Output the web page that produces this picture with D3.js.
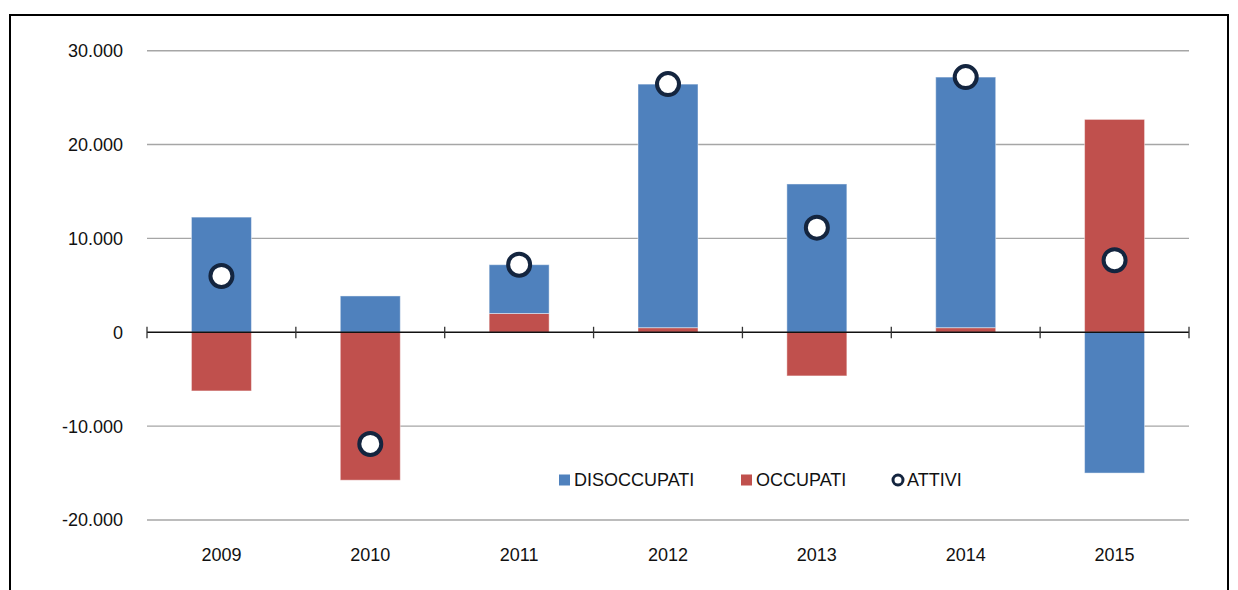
<!DOCTYPE html>
<html>
<head>
<meta charset="utf-8">
<script src="https://cdn.jsdelivr.net/npm/d3@7/dist/d3.min.js"></script>
<style>
  body { margin: 0; background: #fff; }
  svg { display: block; font-family: "Liberation Sans", Arial, sans-serif; }
</style>
</head>
<body>
<svg id="chart" width="1238" height="590"></svg>
<script>
const years = ["2009", "2010", "2011", "2012", "2013", "2014", "2015"];
const disoccupati = [12270, 3870, 5200, 25950, 15800, 26700, -15000];
const occupati = [-6250, -15760, 2000, 490, -4650, 490, 22680];
const attivi = [6000, -11900, 7200, 26440, 11150, 27190, 7680];
const yTicks = [-20000, -10000, 0, 10000, 20000, 30000];
const yTickLabels = ["-20.000", "-10.000", "0", "10.000", "20.000", "30.000"];
const seriesNames = ["DISOCCUPATI", "OCCUPATI", "ATTIVI"];
const colors = { DISOCCUPATI: "#4F81BD", OCCUPATI: "#C0504D", ATTIVI: "#14253F" };

const svg = d3.select("#chart");
const FS = 18;

// frame
svg.append("rect").attr("x", 10).attr("y", 15).attr("width", 1218).attr("height", 600)
  .attr("fill", "none").attr("stroke", "#000").attr("stroke-width", 2);

const x0 = 147, x1 = 1189;
const x = d3.scaleBand().domain(years).range([x0, x1]).paddingInner(0.597).paddingOuter(0.597 / 2);
const y = d3.scaleLinear().domain([-20000, 30000]).range([520, 50.7]);

// gridlines
svg.append("g").selectAll("line").data(yTicks.filter(d => d !== 0)).join("line")
  .attr("x1", x0).attr("x2", x1).attr("y1", d => y(d)).attr("y2", d => y(d))
  .attr("stroke", "#a6a6a6").attr("stroke-width", 1.4);

// y tick labels
svg.append("g").selectAll("text").data(yTicks).join("text")
  .attr("x", 123).attr("y", d => y(d)).attr("dy", "0.36em")
  .attr("text-anchor", "end").attr("font-size", FS).attr("fill", "#111")
  .text((d, i) => yTickLabels[i]);

// stacked bars
const rows = years.map((yr, i) => ({ year: yr, DISOCCUPATI: disoccupati[i], OCCUPATI: occupati[i] }));
const barData = [];
rows.forEach(r => {
  let pos = 0, neg = 0;
  ["OCCUPATI", "DISOCCUPATI"].forEach(k => {
    const v = r[k];
    let a, b;
    if (v >= 0) { a = pos; b = pos + v; pos = b; } else { a = neg; b = neg + v; neg = b; }
    barData.push({ year: r.year, key: k, a, b });
  });
});
svg.append("g").selectAll("rect").data(barData).join("rect")
  .attr("x", d => x(d.year)).attr("width", x.bandwidth())
  .attr("y", d => y(Math.max(d.a, d.b))).attr("height", d => Math.abs(y(d.a) - y(d.b)))
  .attr("fill", d => colors[d.key])
  .attr("stroke", "rgba(255,255,255,0.45)").attr("stroke-width", 1);

// zero axis
const zy = y(0);
svg.append("line").attr("x1", x0).attr("x2", x1).attr("y1", zy).attr("y2", zy)
  .attr("stroke", "#111").attr("stroke-width", 1.5);
const bounds = years.map(yr => x(yr) - x.step() * x.paddingInner() / 2).concat([x1]);
svg.append("g").selectAll("line").data(bounds).join("line")
  .attr("x1", d => d).attr("x2", d => d).attr("y1", zy - 5.5).attr("y2", zy + 6)
  .attr("stroke", "#333").attr("stroke-width", 1.3);

// x labels
svg.append("g").selectAll("text").data(years).join("text")
  .attr("x", d => x(d) + x.bandwidth() / 2).attr("y", 555).attr("dy", "0.36em")
  .attr("text-anchor", "middle").attr("font-size", FS).attr("fill", "#111")
  .text(d => d);

// attivi markers
svg.append("g").selectAll("circle").data(years.map((yr, i) => ({ year: yr, v: attivi[i] }))).join("circle")
  .attr("cx", d => x(d.year) + x.bandwidth() / 2).attr("cy", d => y(d.v)).attr("r", 11)
  .attr("fill", "#fff").attr("stroke", colors.ATTIVI).attr("stroke-width", 4);

// legend
const legY = 480;
const leg = [
  { name: seriesNames[0], x: 559, type: "rect" },
  { name: seriesNames[1], x: 741, type: "rect" },
  { name: seriesNames[2], x: 892, type: "circle" }
];
leg.forEach(l => {
  if (l.type === "rect") {
    svg.append("rect").attr("x", l.x).attr("y", legY - 5.5).attr("width", 11).attr("height", 11)
      .attr("fill", colors[l.name]);
  } else {
    svg.append("circle").attr("cx", l.x + 6).attr("cy", legY).attr("r", 5)
      .attr("fill", "#fff").attr("stroke", colors[l.name]).attr("stroke-width", 3);
  }
  svg.append("text").attr("x", l.x + 15).attr("y", legY).attr("dy", "0.36em")
    .attr("font-size", FS).attr("fill", "#111").text(l.name);
});
</script>
</body>
</html>
